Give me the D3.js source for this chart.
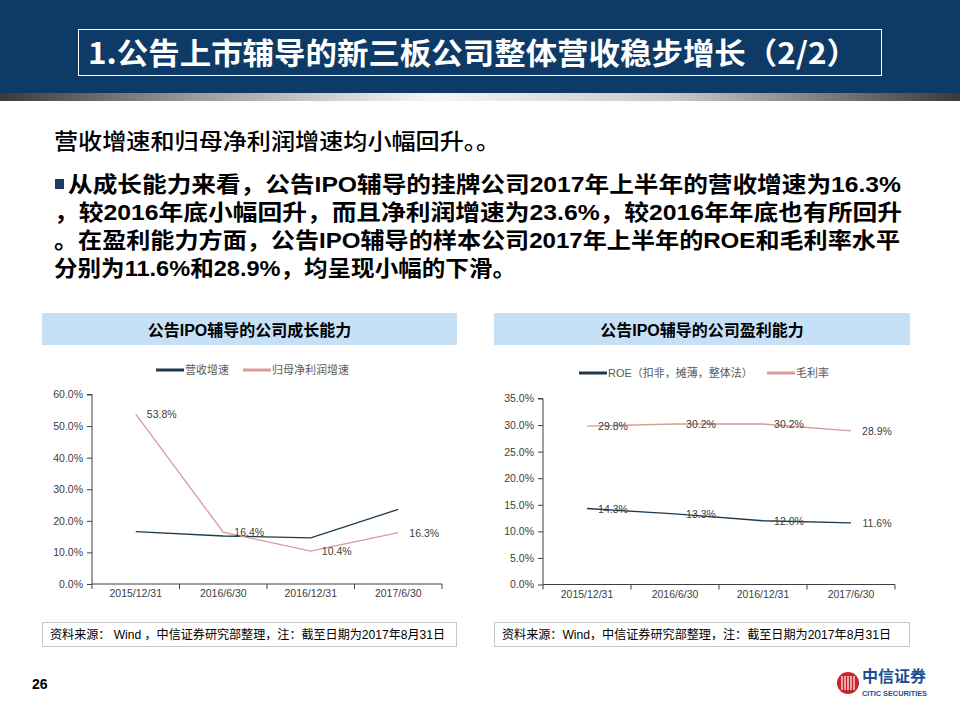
<!DOCTYPE html>
<html><head><meta charset="utf-8">
<script src="https://cdn.jsdelivr.net/npm/d3@7/dist/d3.min.js"></script>
<style>body{margin:0;background:#fff;}svg{display:block;}</style>
</head><body>
<svg id="c" width="960" height="720"></svg>
<script>
// ---- data ----
const categories = ["2015/12/31", "2016/6/30", "2016/12/31", "2017/6/30"];
const revenueGrowth = [16.6, 15.2, 14.6, 23.6];   // 营收增速
const profitGrowth = [53.8, 16.4, 10.4, 16.3];    // 归母净利润增速
const roe = [14.3, 13.3, 12.0, 11.6];             // ROE（扣非，摊薄，整体法）
const grossMargin = [29.8, 30.2, 30.2, 28.9];     // 毛利率
const growthTicks = [0, 10, 20, 30, 40, 50, 60];
const profitTicks = [0, 5, 10, 15, 20, 25, 30, 35];

const CJK = "'Liberation Sans', Arial, 'Noto Sans CJK SC', sans-serif";
const svg = d3.select("#c");
const defs = svg.append("defs");

// ---- header ----
svg.append("rect").attr("x",0).attr("y",0).attr("width",960).attr("height",93).attr("fill","#0d3a66");
const g1 = defs.append("linearGradient").attr("id","bar").attr("x1","0").attr("x2","1");
[[0,"#3a3a3a"],[0.2,"#9a9a9a"],[0.45,"#f4f6f8"],[0.7,"#c8c8c8"],[1,"#3a3a3a"]].forEach(s=>g1.append("stop").attr("offset",s[0]).attr("stop-color",s[1]));
svg.append("rect").attr("x",0).attr("y",93).attr("width",960).attr("height",8).attr("fill","url(#bar)");
svg.append("rect").attr("x",78.5).attr("y",29.5).attr("width",803).attr("height",46).attr("fill","none").attr("stroke","#fff").attr("stroke-width",1);
svg.append("text").attr("x",88).attr("y",64).attr("fill","#fff")
  .style("font-family","'Liberation Sans Narrow', 'Noto Sans CJK SC', sans-serif").style("font-size","30px").style("font-weight","bold")
  .attr("textLength",770).attr("lengthAdjust","spacingAndGlyphs")
  .text("1.公告上市辅导的新三板公司整体营收稳步增长（2/2）");

// ---- body text ----
svg.append("text").attr("x",54).attr("y",149).attr("fill","#000")
  .style("font-family","'Noto Sans CJK SC', sans-serif").style("font-size","22px").style("font-weight","500")
  .attr("textLength",446).attr("lengthAdjust","spacingAndGlyphs")
  .text("营收增速和归母净利润增速均小幅回升。。");
svg.append("rect").attr("x",55).attr("y",179).attr("width",9).attr("height",10).attr("fill","#1f3864");
const lines = [
  {x:68, y:192, w:833, t:"从成长能力来看，公告IPO辅导的挂牌公司2017年上半年的营收增速为16.3%"},
  {x:54, y:220, w:848, t:"，较2016年底小幅回升，而且净利润增速为23.6%，较2016年年底也有所回升"},
  {x:54, y:248, w:846, t:"。在盈利能力方面，公告IPO辅导的样本公司2017年上半年的ROE和毛利率水平"},
  {x:54, y:276, w:462, t:"分别为11.6%和28.9%，均呈现小幅的下滑。"}
];
lines.forEach(l=>svg.append("text").attr("x",l.x).attr("y",l.y).attr("fill","#000")
  .style("font-family",CJK).style("font-size","22px").style("font-weight","bold")
  .attr("textLength",l.w).attr("lengthAdjust","spacingAndGlyphs").text(l.t));

// ---- chart builder ----
function chart(o){
  svg.append("rect").attr("x",o.bx).attr("y",313).attr("width",o.bw).attr("height",32).attr("fill","#c6e0f8");
  svg.append("text").attr("x",o.bx+o.bw/2).attr("y",336).attr("text-anchor","middle").attr("fill","#000")
    .style("font-family",CJK).style("font-size","16px").style("font-weight","bold").text(o.title);
  svg.append("rect").attr("x",o.bx+0.5).attr("y",622.5).attr("width",o.bw-1).attr("height",24).attr("fill","#fff").attr("stroke","#c8c8c8");
  svg.append("text").attr("x",o.bx+8).attr("y",639).attr("fill","#000")
    .style("font-family",CJK).style("font-size","12.5px").attr("textLength",o.srcW).attr("lengthAdjust","spacingAndGlyphs").text(o.source);

  const x = d3.scaleBand().domain(categories).range([o.x0,o.x1]);
  const y = d3.scaleLinear().domain(o.domain).range([o.y0,o.y1]);
  const ax = svg.append("g").attr("transform",`translate(${o.x0},0)`)
    .call(d3.axisLeft(y).tickValues(o.ticks).tickSize(5).tickPadding(4).tickFormat(d=>d.toFixed(1)+"%"));
  const bx = svg.append("g").attr("transform",`translate(0,${o.y0})`)
    .call(d3.axisBottom(x).tickSize(0).tickPadding(6));
  const bounds = categories.map(c=>x(c)).concat([o.x1]);
  bx.selectAll(".bt").data(bounds).enter().append("line").attr("x1",d=>d).attr("x2",d=>d).attr("y1",0).attr("y2",5).attr("stroke","#404040");
  [ax,bx].forEach(a=>{
    a.select(".domain").attr("stroke","#404040");
    a.selectAll(".tick line").attr("stroke","#404040");
    a.selectAll("text").attr("fill","#404040").style("font-family",CJK).style("font-size","10.5px");
  });
  ax.select(".domain").attr("d",`M-5,${o.y1}H0V${o.y0}`);
  bx.select(".domain").attr("d",`M${o.x0},0H${o.x1}`);

  const line = d3.line().x((d,i)=>x(categories[i])+x.bandwidth()/2).y(d=>y(d));
  o.series.forEach(s=>{
    svg.append("path").datum(s.values).attr("d",line).attr("fill","none").attr("stroke",s.color).attr("stroke-width",1.3);
  });
  o.series.forEach(s=>{
    if(!s.labels) return;
    svg.selectAll(null).data(s.values).enter().append("text")
      .attr("x",(d,i)=>x(categories[i])+x.bandwidth()/2+26).attr("y",d=>y(d)+4)
      .attr("text-anchor","middle").attr("fill","#404040")
      .style("font-family",CJK).style("font-size","10.5px").text(d=>d.toFixed(1)+"%");
  });
  o.legend.forEach(l=>{
    svg.append("line").attr("x1",l.x).attr("x2",l.x+28).attr("y1",o.ly).attr("y2",o.ly).attr("stroke",l.color).attr("stroke-width",3);
    svg.append("text").attr("x",l.x+29).attr("y",o.ly+4).attr("fill","#595959")
      .style("font-family",CJK).style("font-size","11px").text(l.name);
  });
}

const navy = "#1d3a4f", pink = "#d99a98";
chart({
  bx:42, bw:415, title:"公告IPO辅导的公司成长能力",
  source:"资料来源： Wind ，中信证券研究部整理，注：截至日期为2017年8月31日", srcW:395,
  x0:92, x1:442, y0:584, y1:394.5, domain:[0,60], ticks:growthTicks,
  series:[{values:revenueGrowth,color:navy,labels:false},{values:profitGrowth,color:pink,labels:true}],
  ly:370, legend:[{x:156,color:navy,name:"营收增速"},{x:243,color:pink,name:"归母净利润增速"}]
});
chart({
  bx:494, bw:416, title:"公告IPO辅导的公司盈利能力",
  source:"资料来源：Wind，中信证券研究部整理，注：截至日期为2017年8月31日", srcW:389,
  x0:543, x1:895, y0:584.5, y1:398.5, domain:[0,35], ticks:profitTicks,
  series:[{values:roe,color:navy,labels:true},{values:grossMargin,color:pink,labels:true}],
  ly:373, legend:[{x:579,color:navy,name:"ROE（扣非，摊薄，整体法）"},{x:767,color:pink,name:"毛利率"}]
});

// ---- footer ----
svg.append("text").attr("x",32).attr("y",689).attr("fill","#000").style("font-family","'Liberation Sans', Arial, sans-serif")
  .style("font-size","14px").style("font-weight","bold").text("26");
const lg = svg.append("g");
lg.append("circle").attr("cx",848).attr("cy",683).attr("r",11).attr("fill","#c8242b");
[-6,-3,0,3,6].forEach(d=>lg.append("line").attr("x1",848+d).attr("x2",848+d).attr("y1",676).attr("y2",690).attr("stroke","#fff").attr("stroke-width",1.2));
lg.append("text").attr("x",862).attr("y",682).attr("fill","#1b4f8f").style("font-family","'Noto Sans CJK SC', sans-serif")
  .style("font-size","16px").style("font-weight","bold").attr("textLength",64).attr("lengthAdjust","spacingAndGlyphs").text("中信证券");
lg.append("text").attr("x",862).attr("y",696).attr("fill","#1b4f8f").style("font-family","'Liberation Sans', Arial, sans-serif")
  .style("font-size","7px").style("font-weight","bold").attr("textLength",65).attr("lengthAdjust","spacingAndGlyphs").text("CITIC SECURITIES");
</script>
</body></html>
